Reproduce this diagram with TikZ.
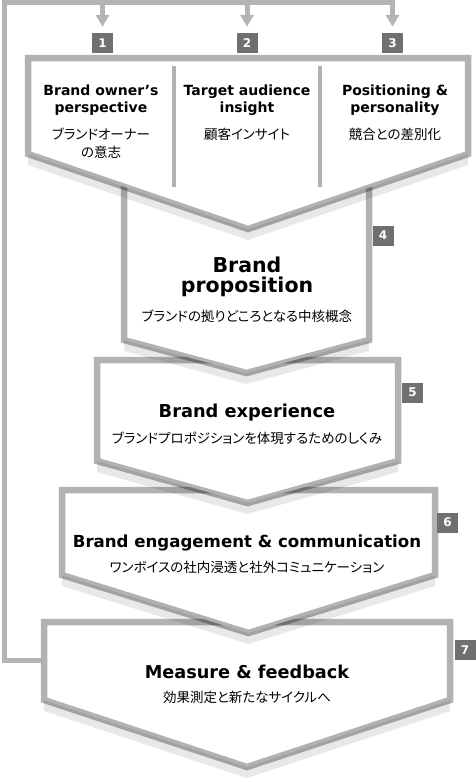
\documentclass[tikz,border=0pt]{standalone}
\usepackage{fontspec}
\setmainfont{DejaVu Sans}
\newfontfamily\jpfont{Noto Sans CJK JP}[RawFeature=+palt]
\usetikzlibrary{arrows.meta}
\definecolor{loopgray}{RGB}{180,180,180}
\definecolor{boxgray}{RGB}{112,112,112}

\begin{document}
\begin{tikzpicture}[x=1pt, y=-1pt,
  chevron/.style={fill=white, draw=black, draw opacity=0.3, line width=6.5pt},
  chevshadow/.style={fill=black, fill opacity=0.09, yshift=-11pt},
  divider/.style={draw=black, draw opacity=0.3, line width=4pt},
  numbox/.style={fill=boxgray, text=white, font=\bfseries\fontsize{12}{12}\selectfont, minimum width=21pt, minimum height=20pt, inner sep=0pt},
  loopline/.style={draw=loopgray, line width=5pt},
  headtext/.style={font=\bfseries\fontsize{14}{17}\selectfont, align=center, anchor=base},
  jptext/.style={font=\jpfont\fontsize{13.5}{18}\selectfont, align=center, anchor=base}]

\useasboundingbox (0,0) rectangle (475,782);

% Lower chevrons, from the bottom up, so that each one hides the top of the next
\foreach \l/\r/\t/\b/\v in {44/450/622/700/767, 62/435/490/575/633, 97/398/360/461/503, 124/369/120/340/373} {
  \fill[chevshadow] (\l,\t) -- (\r,\t) -- (\r,\b) -- ({(\l+\r)/2},\v) -- (\l,\b) -- cycle;
  \draw[chevron] (\l,\t) -- (\r,\t) -- (\r,\b) -- ({(\l+\r)/2},\v) -- (\l,\b) -- cycle;
}

% Top chevron with the three inputs
\fill[chevshadow] (28,58) -- (468,58) -- (468,154) -- (248,229) -- (28,154) -- cycle;
\draw[chevron] (28,58) -- (468,58) -- (468,154) -- (248,229) -- (28,154) -- cycle;
\draw[divider] (174,66) -- (174,187);
\draw[divider] (320,66) -- (320,187);

% (base of a two-line node = its last line)
\node[headtext] (owner) at (101,112) {Brand owner’s\\perspective};
\node[jptext] (ownerjp) at (101,157) {ブランドオーナー\\の意志};
\node[headtext] (target) at (247,112) {Target audience\\insight};
\node[jptext] (targetjp) at (247,139) {顧客インサイト};
\node[headtext] (posit) at (395,112) {Positioning \&\\personality};
\node[jptext] (positjp) at (395,139) {競合との差別化};

% Texts of the lower chevrons
\node[headtext, font=\bfseries\fontsize{20.5}{19.5}\selectfont] (prop) at (247,292) {Brand\\proposition};
\node[jptext] (propjp) at (247,321) {ブランドの拠りどころとなる中核概念};
\node[headtext, font=\bfseries\fontsize{17.8}{20}\selectfont] (exper) at (247,417) {Brand experience};
\node[jptext] (experjp) at (247,443) {ブランドプロポジションを体現するためのしくみ};
\node[headtext, font=\bfseries\fontsize{16.6}{20}\selectfont] (engage) at (247,547) {Brand engagement \& communication};
\node[jptext] (engagejp) at (247,572) {ワンボイスの社内浸透と社外コミュニケーション};
\node[headtext, font=\bfseries\fontsize{17.7}{20}\selectfont] (measure) at (247,678) {Measure \& feedback};
\node[jptext] (measurejp) at (247,702) {効果測定と新たなサイクルへ};

% Step numbers
\node[numbox] (n1) at (102.5,43) {1};
\node[numbox] (n2) at (247,43) {2};
\node[numbox] (n3) at (392.5,43) {3};
\node[numbox] (n4) at (383,235.5) {4};
\node[numbox] (n5) at (412.5,392.5) {5};
\node[numbox] (n6) at (447.5,522.5) {6};
\node[numbox] (n7) at (465,650) {7};

% Feedback loop back to the inputs
\coordinate (fbstart) at (41,660);
\coordinate (looptop) at (4,2.5);
\draw[loopline, -{Triangle[width=13pt, length=12pt]}] (fbstart) -| (looptop) -| ([yshift=6pt]n3.north);
\draw[loopline, -{Triangle[width=13pt, length=12pt]}] (n1 |- looptop) -- ([yshift=6pt]n1.north);
\draw[loopline, -{Triangle[width=13pt, length=12pt]}] (n2 |- looptop) -- ([yshift=6pt]n2.north);

\end{tikzpicture}
\end{document}
